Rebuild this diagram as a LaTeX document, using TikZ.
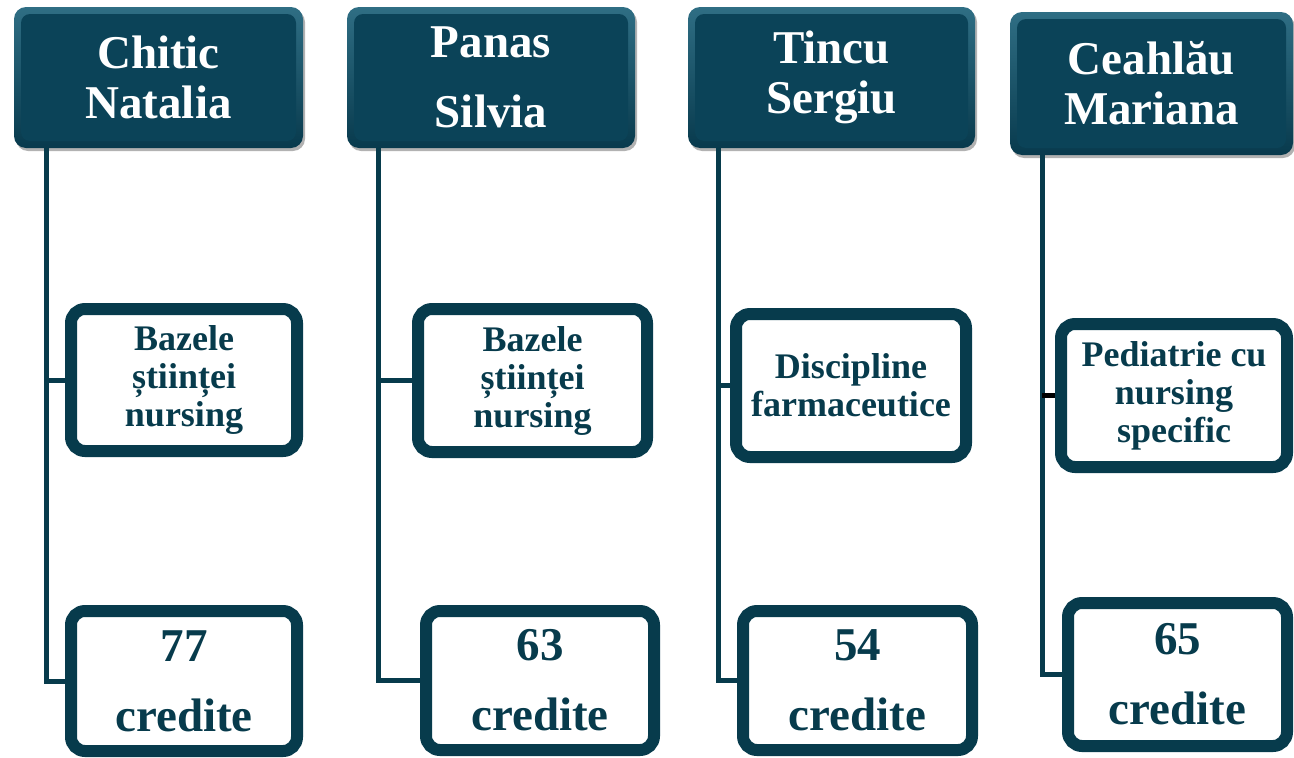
\documentclass[tikz,border=0pt]{standalone}
\usepackage{fontspec}
\setmainfont{Liberation Serif}
\usetikzlibrary{shadows}
\definecolor{hdr}{HTML}{0B4358}
\definecolor{hdrlight}{HTML}{2F6E84}
\definecolor{hdrdark}{HTML}{083A4D}
\definecolor{ink}{HTML}{073B4C}
\tikzset{
  hdrbox/.style={top color=hdrlight, bottom color=hdrdark, rounded corners=12pt, text=white,
    font=\bfseries\fontsize{47}{50}\selectfont, align=center, inner sep=0pt,
    drop shadow={shadow xshift=2pt, shadow yshift=-3pt, opacity=0.3, fill=black},
    path picture={\fill[hdr, rounded corners=9pt]
      ([shift={(7pt,-7pt)}]path picture bounding box.north west) rectangle
      ([shift={(-7pt,7pt)}]path picture bounding box.south east);}},
  subbox/.style={draw=ink, line width=12pt, fill=white, rounded corners=14pt, text=ink,
    font=\bfseries\fontsize{36}{38}\selectfont, align=center, inner sep=0pt},
  credbox/.style={subbox, font=\bfseries\fontsize{47}{70}\selectfont},
  link/.style={draw=ink, line width=5pt},
}
\begin{document}
\begin{tikzpicture}[x=1pt,y=-1pt]
\useasboundingbox (0,0) rectangle (1294,758);
% headers
\node[hdrbox, minimum width=289pt, minimum height=141pt] (h1) at (158.5,77.5) {Chitic\\Natalia};
\node[hdrbox, minimum width=288pt, minimum height=141pt, font=\bfseries\fontsize{47}{70}\selectfont] (h2) at (491,77.5) {Panas\\Silvia};
\node[hdrbox, minimum width=287pt, minimum height=141pt] (h3) at (831.5,77.5) {Tincu\\Sergiu};
\node[hdrbox, minimum width=283pt, minimum height=143pt] (h4) at (1151.5,83.5) {Ceahlău\\Mariana};
% spine coordinates
\coordinate (v1) at (46,0);
\coordinate (v2) at (378,0);
\coordinate (v3) at (718,0);
\coordinate (v4) at (1042,0);
% subject boxes
\node[subbox, minimum width=226pt, minimum height=142pt] (m1) at (184,380) {Bazele\\științei\\nursing};
\node[subbox, minimum width=229pt, minimum height=143pt] (m2) at (532.5,380.5) {Bazele\\științei\\nursing};
\node[subbox, minimum width=230pt, minimum height=143pt] (m3) at (851,385.5) {Discipline\\farmaceutice};
\node[subbox, minimum width=226pt, minimum height=143pt] (m4) at (1174,395.5) {Pediatrie cu\\nursing\\specific};
% credit boxes
\node[credbox, minimum width=226pt, minimum height=140pt] (b1) at (184,681) {77\\credite};
\node[credbox, minimum width=228pt, minimum height=139pt] (b2) at (540,680.5) {63\\credite};
\node[credbox, minimum width=229pt, minimum height=139pt] (b3) at (857.5,680.5) {54\\credite};
\node[credbox, minimum width=219pt, minimum height=143pt] (b4) at (1177.5,674.5) {65\\credite};
% connectors
\draw[link] (v1 |- h1.south) |- (b1.west);
\draw[link] (v1 |- m1.west) -- (m1.west);
\draw[link] (v2 |- h2.south) |- (b2.west);
\draw[link] (v2 |- m2.west) -- (m2.west);
\draw[link] (v3 |- h3.south) |- (b3.west);
\draw[link] (v3 |- m3.west) -- (m3.west);
\draw[link] (v4 |- h4.south) |- (b4.west);
\draw[link, draw=black] (v4 |- m4.west) -- (m4.west);
\end{tikzpicture}
\end{document}
